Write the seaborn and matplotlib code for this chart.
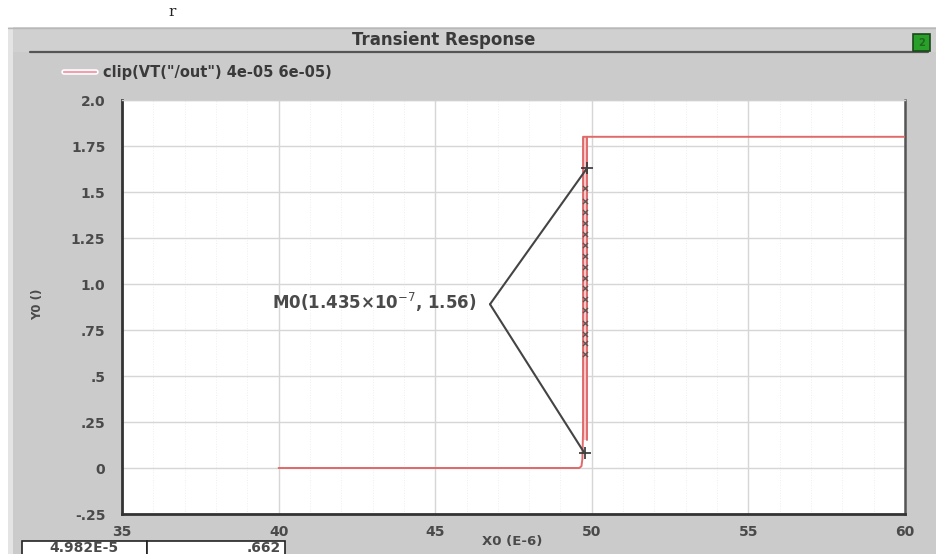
import matplotlib
matplotlib.use("Agg")
import matplotlib.pyplot as plt
from matplotlib.patches import Rectangle
from matplotlib.lines import Line2D
from matplotlib.ticker import MultipleLocator, FixedLocator
import pandas as pd
import seaborn as sns

# ---- data -------------------------------------------------------------
# clipped output waveform, time in microseconds, voltage in volts
time_us = [40.0, 49.60, 49.67, 49.70, 49.72, 49.72, 49.80, 49.86, 60.0]
vout = [0.0, 0.0, 0.01, 0.05, 0.20, 1.80, 1.80, 1.80, 1.80]

# second edge of the ringing band
edge_time = [49.86, 49.86]
edge_v = [0.15, 1.80]

# sample markers drawn along the rising edge
sample_v = [0.62, 0.68, 0.73, 0.79, 0.86, 0.92, 0.98, 1.03, 1.09,
            1.15, 1.21, 1.27, 1.33, 1.39, 1.45, 1.52]
sample_t = [49.79] * len(sample_v)

# marker M0 end points and label anchor
m0_t = [49.85, 49.77]
m0_v = [1.63, 0.08]
m0_anchor = (46.75, 0.89)
m0_label = "M0(1.435×10$^{-7}$, 1.56)"

x_ticks = [35, 40, 45, 50, 55, 60]
x_tick_labels = ["35", "40", "45", "50", "55", "60"]
y_ticks = [-0.25, 0.0, 0.25, 0.5, 0.75, 1.0, 1.25, 1.5, 1.75, 2.0]
y_tick_labels = ["-.25", "0", ".25", ".5", ".75", "1.0", "1.25", "1.5", "1.75", "2.0"]

legend_label = 'clip(VT("/out") 4e-05 6e-05)'
title = "Transient Response"
cursor_x_text = "4.982E-5"
cursor_y_text = ".662"

# ---- figure -----------------------------------------------------------
sns.set_theme(style="white")
plt.rcParams["font.family"] = ["DejaVu Sans"]

W, H = 937, 554
fig = plt.figure(figsize=(W / 100, H / 100), dpi=100)
fig.patch.set_facecolor("white")
TXT = "#4a4a4a"


def fx(px):
    return px / W


def fy(py):
    return 1 - py / H


def frect(x0, y0, x1, y1, z=0, **kw):
    r = Rectangle((fx(x0), fy(y1)), fx(x1) - fx(x0), fy(y0) - fy(y1),
                  transform=fig.transFigure, zorder=z, **kw)
    fig.patches.append(r)
    return r


def fline(x0, y0, x1, y1, **kw):
    ln = Line2D([fx(x0), fx(x1)], [fy(y0), fy(y1)], transform=fig.transFigure,
                zorder=3, **kw)
    fig.lines.append(ln)


# window panel
frect(8, 27, 937, 554, facecolor="#cbcbcb", edgecolor="none")
frect(8, 27, 13, 554, facecolor="#e4e4e4", edgecolor="none")
frect(13, 27, 937, 52, facecolor="#d0d0d0", edgecolor="none")
fline(8, 27.5, 937, 27.5, color="#b8b8b8", lw=1)
fline(30, 52, 928, 52, color="#555555", lw=1.6)

# green status button
frect(913, 34, 930, 51, z=3, facecolor="#2aa02a", edgecolor="#1a4a1a", lw=1.2)
fig.text(fx(921.5), fy(42.5), "2", ha="center", va="center",
         fontsize=7, color="#1d6a1d", fontweight="bold", zorder=4)

# title
fig.text(fx(444), fy(40), title, ha="center", va="center",
         fontsize=12, fontweight="bold", color="#3a3a3a")

# cursor glyph above the panel
fig.text(fx(172), fy(12), "r", ha="center", va="center",
         fontsize=11, family="DejaVu Serif", color="#222222")

# legend entry
fline(64, 72, 96, 72, color="#ffffff", lw=4)
fline(64, 72, 96, 72, color="#f0a0b0", lw=1.6)
fig.text(fx(103), fy(72), legend_label, ha="left", va="center",
         fontsize=10.5, fontweight="bold", color="#3a3a3a")

# ---- plot axes --------------------------------------------------------
ax = fig.add_axes([fx(122), fy(514), fx(905) - fx(122), fy(100) - fy(514)])
ax.set_zorder(2)
ax.set_facecolor("white")

df = pd.DataFrame({"t": time_us, "v": vout})
sns.lineplot(data=df, x="t", y="v", sort=False, estimator=None, ax=ax,
             color="#e06a6a", lw=1.4, zorder=4)
edge_df = pd.DataFrame({"t": edge_time, "v": edge_v})
sns.lineplot(data=edge_df, x="t", y="v", sort=False, estimator=None, ax=ax,
             color="#e06a6a", lw=1.4, zorder=4)
ax.fill_betweenx(edge_v, [time_us[4]] * 2, edge_time, color="#f4c8c8", lw=0, zorder=3)

samples_df = pd.DataFrame({"t": sample_t, "v": sample_v})
sns.scatterplot(data=samples_df, x="t", y="v", ax=ax, marker="x", s=14,
                color="#555555", linewidth=0.9, zorder=5)

# M0 marker crosses and leader lines
m0_df = pd.DataFrame({"t": m0_t, "v": m0_v})
sns.scatterplot(data=m0_df, x="t", y="v", ax=ax, marker="+", s=70,
                color="#333333", linewidth=1.2, zorder=6)
for t, v in zip(m0_t, m0_v):
    ax.plot([m0_anchor[0], t], [m0_anchor[1], v], color="#444444", lw=1.5, zorder=6)
ax.text(39.8, m0_anchor[1] + 0.01, m0_label, ha="left", va="center",
        fontsize=12, fontweight="bold", color=TXT, zorder=7)

ax.set_xlim(35, 60)
ax.set_ylim(-0.25, 2.0)
ax.xaxis.set_major_locator(FixedLocator(x_ticks))
ax.set_xticklabels(x_tick_labels)
ax.yaxis.set_major_locator(FixedLocator(y_ticks))
ax.set_yticklabels(y_tick_labels)
ax.xaxis.set_minor_locator(MultipleLocator(1))
ax.yaxis.set_minor_locator(MultipleLocator(0.025))

ax.grid(which="major", color="#d6d6d6", lw=1.0, ls="-")
ax.grid(which="minor", axis="x", color="#efefef", lw=0.7, ls=":")
ax.set_axisbelow(True)

ax.tick_params(axis="y", which="major", direction="out", length=10, width=1.4,
               color="#333333", labelsize=10, labelcolor=TXT, pad=2)
ax.tick_params(axis="x", which="major", direction="out", length=5, width=1.6,
               color="#333333", labelsize=10, labelcolor=TXT, pad=3)
ax.tick_params(axis="y", which="minor", direction="out", length=5, width=1,
               color="#444444")
ax.tick_params(axis="x", which="minor", direction="inout", length=4, width=2,
               color="#444444")
for lbl in ax.get_xticklabels() + ax.get_yticklabels():
    lbl.set_fontweight("bold")

for side in ("left", "bottom"):
    ax.spines[side].set_color("#333333")
    ax.spines[side].set_linewidth(2.0)
ax.spines["right"].set_color("#555555")
ax.spines["right"].set_linewidth(1.8)
ax.spines["top"].set_color("#cfcfcf")
ax.spines["top"].set_linewidth(1.0)

ax.set_xlabel("")
ax.set_ylabel("")
fig.text(fx(512), fy(542), "X0 (E-6)", ha="center", va="center",
         fontsize=9.5, fontweight="bold", color=TXT)
fig.text(fx(38), fy(304), "Y0 ()", ha="center", va="center", rotation=90,
         fontsize=8.5, fontweight="bold", color=TXT)

# cursor readout boxes
frect(22, 541, 147, 560, z=3, facecolor="white", edgecolor="#222222", lw=1.2)
frect(147, 541, 285, 560, z=3, facecolor="white", edgecolor="#222222", lw=1.2)
fig.text(fx(84), fy(548), cursor_x_text, ha="center", va="center",
         fontsize=10, fontweight="bold", color=TXT, zorder=4)
fig.text(fx(281), fy(548), cursor_y_text, ha="right", va="center",
         fontsize=10, fontweight="bold", color=TXT, zorder=4)

fig.savefig("out.png", dpi=100)
